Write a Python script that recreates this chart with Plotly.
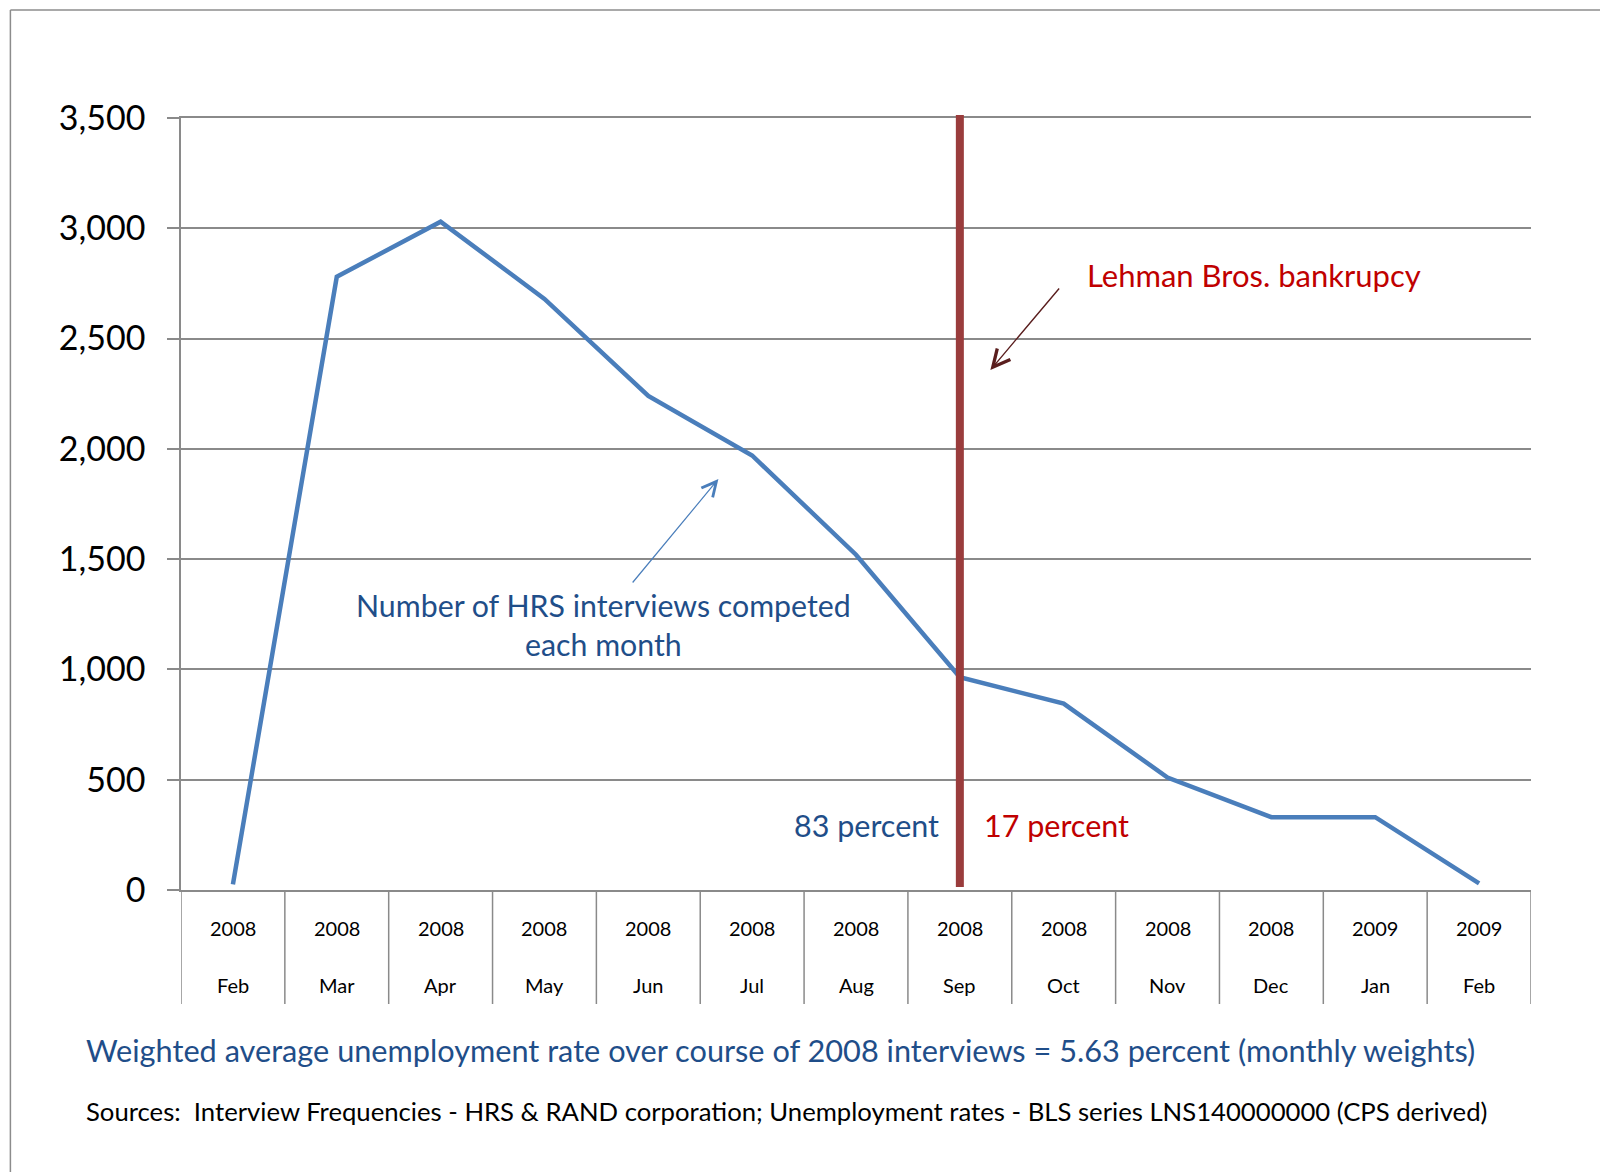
import plotly.graph_objects as go

# ---- data ----
years = ["2008", "2008", "2008", "2008", "2008", "2008", "2008", "2008", "2008", "2008", "2008", "2009", "2009"]
months = ["Feb", "Mar", "Apr", "May", "Jun", "Jul", "Aug", "Sep", "Oct", "Nov", "Dec", "Jan", "Feb"]
interviews = [25, 2780, 3030, 2680, 2240, 1970, 1520, 965, 845, 510, 330, 330, 30]
y_ticks = [0, 500, 1000, 1500, 2000, 2500, 3000, 3500]
lehman_index = 7  # Sep 2008

W, H = 1600, 1172
L, R, T, B = 180.6, 1530.6, 118.0, 890.0
PW, PH = R - L, B - T


def px(x):
    return (x - L) / PW


def py(y):
    return (B - y) / PH


FONT = "Lato"
GRID = "#8A8A8A"
BLUE_TXT = "#1F4E89"
RED_TXT = "#C00000"

xs = list(range(len(months)))

fig = go.Figure()
fig.add_trace(go.Scatter(
    x=xs, y=interviews, mode="lines",
    line=dict(color="#4A7EBB", width=4.5),
    hoverinfo="skip", showlegend=False,
))

shapes = []
# category dividers below the axis
for k in range(len(months) + 1):
    shapes.append(dict(type="line", xref="x", yref="paper",
                       x0=k - 0.5, x1=k - 0.5, y0=0, y1=py(1004),
                       line=dict(color=GRID, width=1.5)))
# Lehman vertical line
shapes.append(dict(type="line", xref="x", yref="paper",
                   x0=lehman_index, x1=lehman_index, y0=py(887), y1=py(115),
                   line=dict(color="#9A3C3C", width=8), layer="above"))
# outer frame (left and top)
shapes.append(dict(type="line", xref="paper", yref="paper",
                   x0=px(10), x1=px(10), y0=py(10), y1=py(1172),
                   line=dict(color="#8C8C8C", width=1.5)))
shapes.append(dict(type="line", xref="paper", yref="paper",
                   x0=px(10), x1=px(1600), y0=py(10), y1=py(10),
                   line=dict(color="#8C8C8C", width=1.5)))

annotations = []
for i, (yr, mo) in enumerate(zip(years, months)):
    annotations.append(dict(x=i, y=py(927.5), xref="x", yref="paper", text=yr,
                            showarrow=False, xanchor="center", yanchor="middle",
                            font=dict(family=FONT, size=20, color="#000000")))
    annotations.append(dict(x=i, y=py(984.7), xref="x", yref="paper", text=mo,
                            showarrow=False, xanchor="center", yanchor="middle",
                            font=dict(family=FONT, size=20, color="#000000")))

annotations += [
    dict(x=px(1253.6), y=py(275), xref="paper", yref="paper",
         text="Lehman Bros. bankrupcy", showarrow=False,
         xanchor="center", yanchor="middle",
         font=dict(family=FONT, size=31, color=RED_TXT)),
    dict(x=px(990), y=py(370), xref="paper", yref="paper", text="",
         showarrow=True, ax=70, ay=-83, arrowhead=5, arrowsize=2.4,
         arrowwidth=1.4, arrowcolor="#5A1E1E"),
    dict(x=px(603), y=py(624), xref="paper", yref="paper",
         text="Number of HRS interviews competed<br>each month", showarrow=False,
         xanchor="center", yanchor="middle", align="center",
         font=dict(family=FONT, size=30.3, color=BLUE_TXT)),
    dict(x=px(718), y=py(479), xref="paper", yref="paper", text="",
         showarrow=True, ax=-87, ay=105, arrowhead=5, arrowsize=2.4,
         arrowwidth=1.2, arrowcolor="#4A7EBB"),
    dict(x=lehman_index, y=py(824.5), xref="x", yref="paper", text="83 percent",
         showarrow=False, xanchor="right", yanchor="middle", xshift=-19,
         font=dict(family=FONT, size=30.5, color=BLUE_TXT)),
    dict(x=lehman_index, y=py(824.5), xref="x", yref="paper", text="17 percent",
         showarrow=False, xanchor="left", yanchor="middle", xshift=22,
         font=dict(family=FONT, size=30.5, color=RED_TXT)),
    dict(x=px(83.5), y=py(1050.5), xref="paper", yref="paper",
         text="Weighted average unemployment rate over course of 2008 interviews = 5.63 percent (monthly weights)",
         showarrow=False, xanchor="left", yanchor="middle",
         font=dict(family=FONT, size=30.7, color=BLUE_TXT)),
    dict(x=px(84), y=py(1110.5), xref="paper", yref="paper",
         text="Sources:  Interview Frequencies - HRS &amp; RAND corporation; Unemployment rates - BLS series LNS140000000 (CPS derived)",
         showarrow=False, xanchor="left", yanchor="middle",
         font=dict(family=FONT, size=25.7, color="#000000")),
]

fig.update_layout(
    width=W, height=H,
    margin=dict(l=L, r=W - R, t=T, b=H - B, pad=0),
    paper_bgcolor="white", plot_bgcolor="white",
    font=dict(family=FONT),
    shapes=shapes, annotations=annotations,
    showlegend=False,
    xaxis=dict(range=[-0.5, len(months) - 0.5], showgrid=False, zeroline=False,
               showticklabels=False, ticks="", showline=True, mirror=True,
               linecolor=GRID, linewidth=1.5, fixedrange=True),
    yaxis=dict(range=[0, 3500], tickvals=y_ticks, tickformat=",",
               showgrid=True, gridcolor=GRID, gridwidth=1.5, zeroline=False,
               showline=True, linecolor=GRID, linewidth=1.5,
               ticks="outside", ticklen=12, tickcolor=GRID, tickwidth=1.5,
               ticklabelstandoff=15,
               tickfont=dict(family=FONT, size=34, color="#000000"),
               fixedrange=True),
)

fig.write_html("out.html")
